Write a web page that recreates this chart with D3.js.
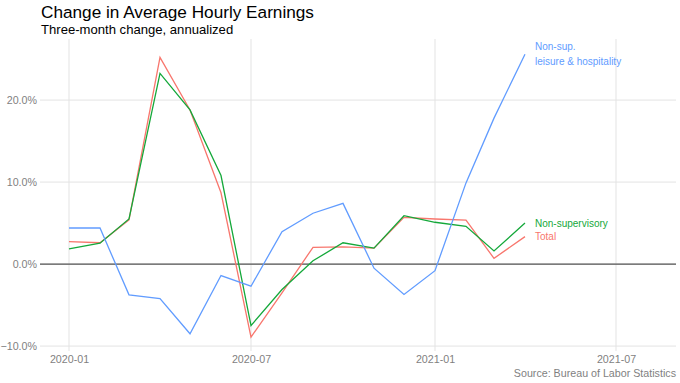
<!DOCTYPE html>
<html>
<head>
<meta charset="utf-8">
<script src="https://cdn.jsdelivr.net/npm/d3@7"></script>
<style>
  body { margin: 0; background: #fff; }
  text { font-family: "Liberation Sans", Arial, sans-serif; }
</style>
</head>
<body>
<div id="chart"></div>
<script>
var width = 680;
var height = 383;

// monthly observations, 2020-01 .. 2021-04
var months = ["2020-01", "2020-02", "2020-03", "2020-04", "2020-05", "2020-06",
  "2020-07", "2020-08", "2020-09", "2020-10", "2020-11", "2020-12",
  "2021-01", "2021-02", "2021-03", "2021-04"];
var total = [2.75, 2.6, 5.4, 25.2, 18.8, 8.7, -8.9, -3.5, 2.05, 2.1, 1.95, 5.7, 5.5, 5.35, 0.7, 3.35];
var nonSup = [1.85, 2.55, 5.5, 23.25, 18.8, 10.8, -7.5, -3.1, 0.4, 2.6, 1.95, 5.9, 5.1, 4.6, 1.6, 5.0];
var leisure = [4.4, 4.4, -3.75, -4.2, -8.5, -1.4, -2.7, 3.95, 6.2, 7.4, -0.5, -3.7, -0.8, 9.9, 17.8, 25.6];

var yTicks = [-10, 0, 10, 20];
var xTicks = ["2020-01", "2020-07", "2021-01", "2021-07"];

var series = [
  { name: "Total", values: total, color: "#F8766D", label: ["Total"] },
  { name: "Non-supervisory", values: nonSup, color: "#14A83A", label: ["Non-supervisory"] },
  { name: "Leisure", values: leisure, color: "#619CFF", label: ["Non-sup.", "leisure & hospitality"] }
];

var parse = d3.timeParse("%Y-%m");
var dates = months.map(parse);

var panelLeft = 40, panelRight = 676, panelTop = 39, panelBottom = 351;

var xScale = d3.scaleTime()
  .domain([new Date(2019, 11, 3), new Date(2021, 7, 30)])
  .range([panelLeft, panelRight]);
var yScale = d3.scaleLinear()
  .domain([-10.6, 27.45])
  .range([panelBottom, panelTop]);

var svg = d3.select("#chart").append("svg")
  .attr("width", width)
  .attr("height", height);

// grid
svg.append("g").selectAll("line")
  .data(yTicks)
  .enter().append("line")
  .attr("x1", panelLeft).attr("x2", panelRight)
  .attr("y1", d => yScale(d)).attr("y2", d => yScale(d))
  .attr("stroke", "#e3e3e3").attr("stroke-width", 1);

svg.append("g").selectAll("line")
  .data(xTicks)
  .enter().append("line")
  .attr("x1", d => xScale(parse(d))).attr("x2", d => xScale(parse(d)))
  .attr("y1", panelTop).attr("y2", panelBottom)
  .attr("stroke", "#e3e3e3").attr("stroke-width", 1);

// zero line
svg.append("line")
  .attr("x1", panelLeft).attr("x2", panelRight)
  .attr("y1", yScale(0)).attr("y2", yScale(0))
  .attr("stroke", "#555").attr("stroke-width", 1.1);

// axes (text only)
var yAxis = d3.axisLeft(yScale)
  .tickValues(yTicks)
  .tickSize(0)
  .tickPadding(3)
  .tickFormat(d => d3.format(".1f")(d) + "%");
svg.append("g")
  .attr("transform", "translate(" + panelLeft + ",0)")
  .call(yAxis)
  .call(g => g.select(".domain").remove())
  .selectAll("text")
  .attr("fill", "#7f7f7f")
  .style("font-size", "10.7px")
  .style("font-family", "'Liberation Sans', Arial, sans-serif");

var xAxis = d3.axisBottom(xScale)
  .tickValues(xTicks.map(parse))
  .tickSize(0)
  .tickPadding(4)
  .tickFormat(d3.timeFormat("%Y-%m"));
svg.append("g")
  .attr("transform", "translate(0," + panelBottom + ")")
  .call(xAxis)
  .call(g => g.select(".domain").remove())
  .selectAll("text")
  .attr("fill", "#7f7f7f")
  .style("font-size", "10.7px")
  .style("font-family", "'Liberation Sans', Arial, sans-serif");

// lines
var line = d3.line()
  .x((d, i) => xScale(dates[i]))
  .y(d => yScale(d));

svg.append("g").selectAll("path")
  .data(series)
  .enter().append("path")
  .attr("d", d => line(d.values))
  .attr("fill", "none")
  .attr("stroke", d => d.color)
  .attr("stroke-width", 1.3);

// end labels
var last = dates.length - 1;
series.forEach(function (s) {
  var n = s.label.length;
  var t = svg.append("text")
    .attr("x", xScale(dates[last]) + 10)
    .attr("y", yScale(s.values[last]) - (n - 1) * 7.3)
    .attr("fill", s.color)
    .style("font-size", "10px");
  s.label.forEach(function (l, i) {
    t.append("tspan")
      .attr("x", xScale(dates[last]) + 10)
      .attr("dy", i === 0 ? "0.35em" : "14.6px")
      .text(l);
  });
});

// titles
svg.append("text")
  .attr("x", 41).attr("y", 18)
  .style("font-size", "17.2px")
  .attr("fill", "#000")
  .text("Change in Average Hourly Earnings");
svg.append("text")
  .attr("x", 41).attr("y", 34)
  .style("font-size", "13.1px")
  .attr("fill", "#000")
  .text("Three-month change, annualized");

svg.append("text")
  .attr("x", panelRight).attr("y", 377)
  .attr("text-anchor", "end")
  .style("font-size", "10.7px")
  .attr("fill", "#7f7f7f")
  .text("Source: Bureau of Labor Statistics");
</script>
</body>
</html>
